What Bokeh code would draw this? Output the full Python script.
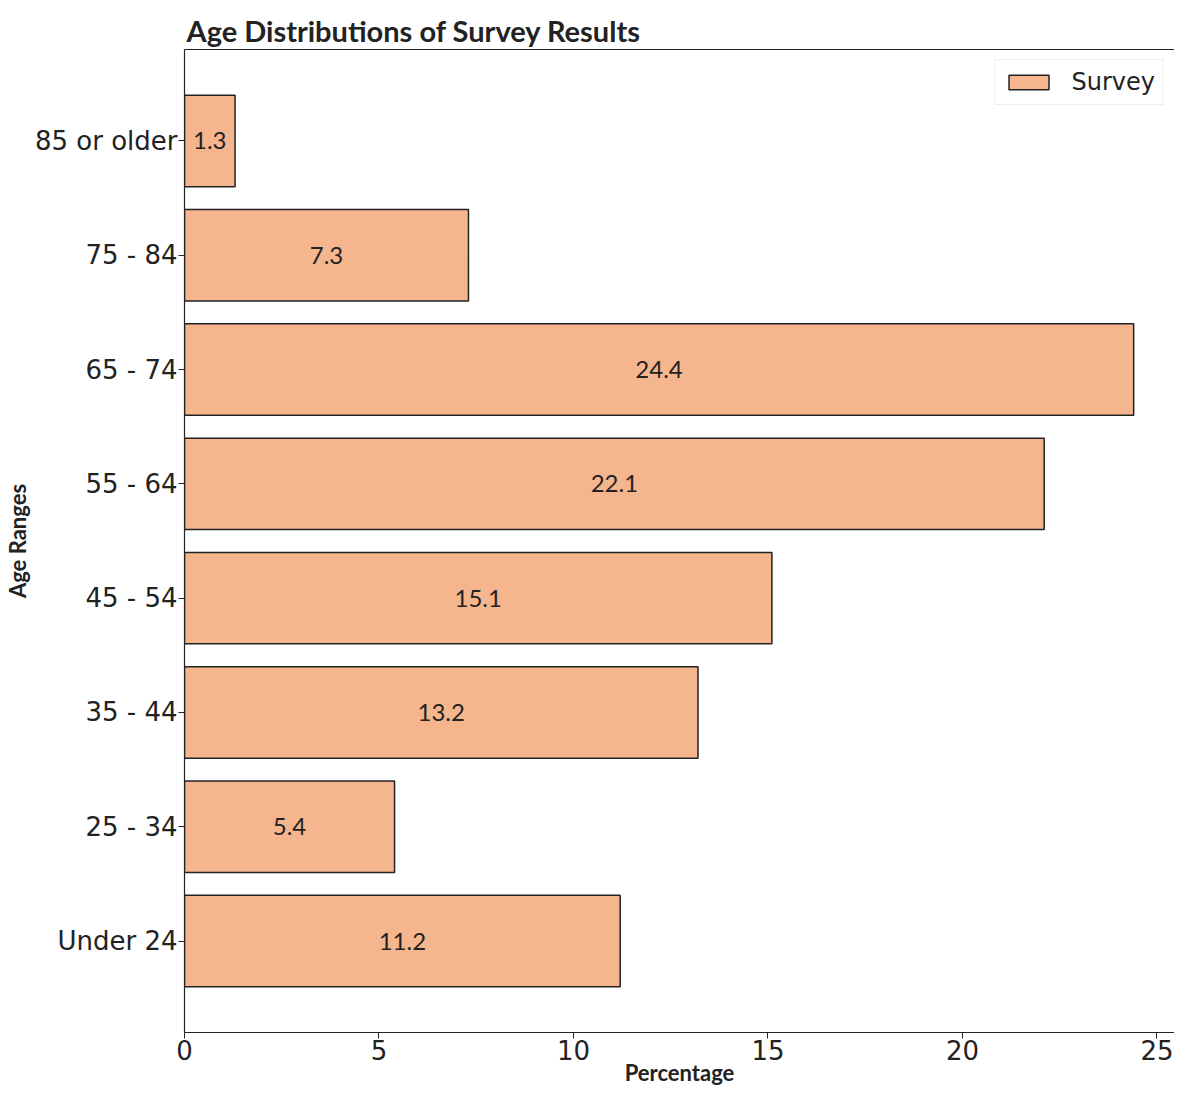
from bokeh.plotting import figure
from bokeh.models import FactorRange, Range1d, LinearAxis, FixedTicker, ColumnDataSource, Legend, LegendItem
from bokeh.core.properties import value
from bokeh.embed import file_html
from bokeh.resources import INLINE

categories = ["Under 24", "25 - 34", "35 - 44", "45 - 54", "55 - 64", "65 - 74", "75 - 84", "85 or older"]
percentages = [11.2, 5.4, 13.2, 15.1, 22.1, 24.4, 7.3, 1.3]
x_ticks = [0, 5, 10, 15, 20, 25]
series_name = "Survey"

BAR = "#f5b68e"
EDGE = "#222222"

src = ColumnDataSource(dict(
    cat=categories,
    val=percentages,
    mid=[v / 2 for v in percentages],
    lab=[f"{v:.1f}" for v in percentages],
))

p = figure(width=1174, height=1088,
           y_range=FactorRange(factors=categories, range_padding=0.075, range_padding_units="percent"),
           x_range=Range1d(0, 25.45),
           output_backend="svg", toolbar_location=None,
           min_border_left=175, min_border_right=0, min_border_top=49, min_border_bottom=40)

r = p.hbar(y="cat", right="val", left=0, height=0.8, source=src,
           fill_color=BAR, line_color=EDGE, line_width=1.5)
p.text(x="mid", y="cat", text="lab", source=src, text_align="center", text_baseline="middle",
       text_font=value("Lato"), text_font_size="24px", text_color="#222222")

p.title.text = "Age Distributions of Survey Results"
p.title.text_font = "Lato"
p.title.text_font_style = "bold"
p.title.text_font_size = "29px"
p.title.text_color = "#222222"
p.title.standoff = 4
p.title.offset = 2

p.outline_line_color = None
p.xgrid.grid_line_color = None
p.ygrid.grid_line_color = None

xa = p.below[0]
ya = p.left[0]

top = LinearAxis(ticker=FixedTicker(ticks=[]), axis_line_color="#222222", axis_line_width=1.2,
                 major_tick_line_color=None, minor_tick_line_color=None)
p.add_layout(top, "above")

xa.ticker = FixedTicker(ticks=x_ticks)
xa.axis_label = "Percentage"
ya.axis_label = "Age Ranges"
for ax in (xa, ya):
    ax.axis_line_color = "#222222"
    ax.axis_line_width = 1.2
    ax.major_tick_line_color = "#222222"
    ax.major_tick_out = 6
    ax.major_tick_in = 0
    ax.minor_tick_line_color = None
    ax.major_label_text_font = "DejaVu Sans"
    ax.major_label_text_font_size = "26px"
    ax.major_label_text_color = "#222222"
    ax.major_label_text_line_height = 1.0
    ax.axis_label_text_font = "Lato"
    ax.axis_label_text_font_style = "bold"
    ax.axis_label_text_font_size = "22px"
    ax.axis_label_text_color = "#222222"
    ax.axis_label_text_line_height = 1.0
ya.major_label_standoff = 1
ya.axis_label_standoff = 1
xa.major_label_standoff = 1
xa.axis_label_standoff = -4

legend = Legend(items=[LegendItem(label=series_name, renderers=[r])], location="top_right",
                label_text_font="DejaVu Sans", label_text_font_size="24px", label_text_color="#222222",
                glyph_width=50, glyph_height=18, border_line_color="#dddddd", border_line_width=1,
                padding=8, spacing=0, margin=10, label_standoff=18)
p.add_layout(legend)

open("out.html", "w").write(file_html(p, INLINE))
